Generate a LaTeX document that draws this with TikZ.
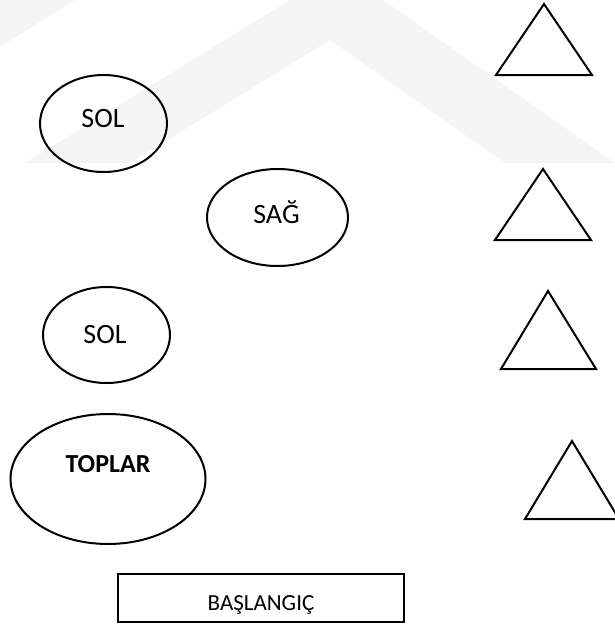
\documentclass[tikz,border=0pt]{standalone}
\usepackage{fontspec}
\setmainfont{Carlito}
\usetikzlibrary{shapes.geometric}
\tikzset{
  shapeline/.style={draw=black, line width=2pt},
  oval/.style={shapeline, ellipse, inner sep=0pt},
  startbox/.style={shapeline, rectangle, inner sep=0pt},
  lbl/.style={anchor=base, inner sep=0pt, font=\fontsize{28}{30}\selectfont},
  lblbold/.style={anchor=base, inner sep=0pt, font=\fontsize{26}{28}\selectfont\bfseries},
  lblsmall/.style={anchor=base, inner sep=0pt, font=\fontsize{23}{25}\selectfont},
  wmark/.style={fill=black!4, draw=none}
}
\begin{document}
\begin{tikzpicture}[x=1pt, y=-1pt]
\useasboundingbox (0,0) rectangle (614,624);
\fill[white] (0,0) rectangle (614,624);
% faint watermark
\fill[wmark] (25,163) -- (290,0) -- (383,0) -- (615,163) -- (505,163) -- (330,40) -- (130,163) -- cycle;
\fill[wmark] (0,47) -- (0,0) -- (75,0) -- cycle;
% ellipses
\node[oval, minimum width=127pt, minimum height=97pt] (sol1) at (103.5,123.5) {};
\node[oval, minimum width=141pt, minimum height=97pt] (sag) at (277.5,217.5) {};
\node[oval, minimum width=127pt, minimum height=96pt] (sol2) at (106.5,335) {};
\node[oval, minimum width=195pt, minimum height=130pt] (toplar) at (108,479) {};
\node[startbox, minimum width=286pt, minimum height=48pt] (start) at (261,598) {};
% texts
\node[lbl] (tsol1) at (103,127) {SOL};
\node[lbl] (tsag) at (276.5,223) {SAĞ};
\node[lbl] (tsol2) at (105,343) {SOL};
\node[lblbold] (ttoplar) at (108,472) {TOPLAR};
\node[lblsmall] (tstart) at (261,610) {BAŞLANGIÇ};
% triangles
\draw[shapeline, line join=miter] (544,4) -- (496,75) -- (592,75) -- cycle;
\draw[shapeline, line join=miter] (543,169) -- (495,240) -- (591,240) -- cycle;
\draw[shapeline, line join=miter] (548,291) -- (501,369) -- (596,369) -- cycle;
\draw[shapeline, line join=miter] (572,441) -- (525,519) -- (619,519) -- cycle;
\end{tikzpicture}
\end{document}
